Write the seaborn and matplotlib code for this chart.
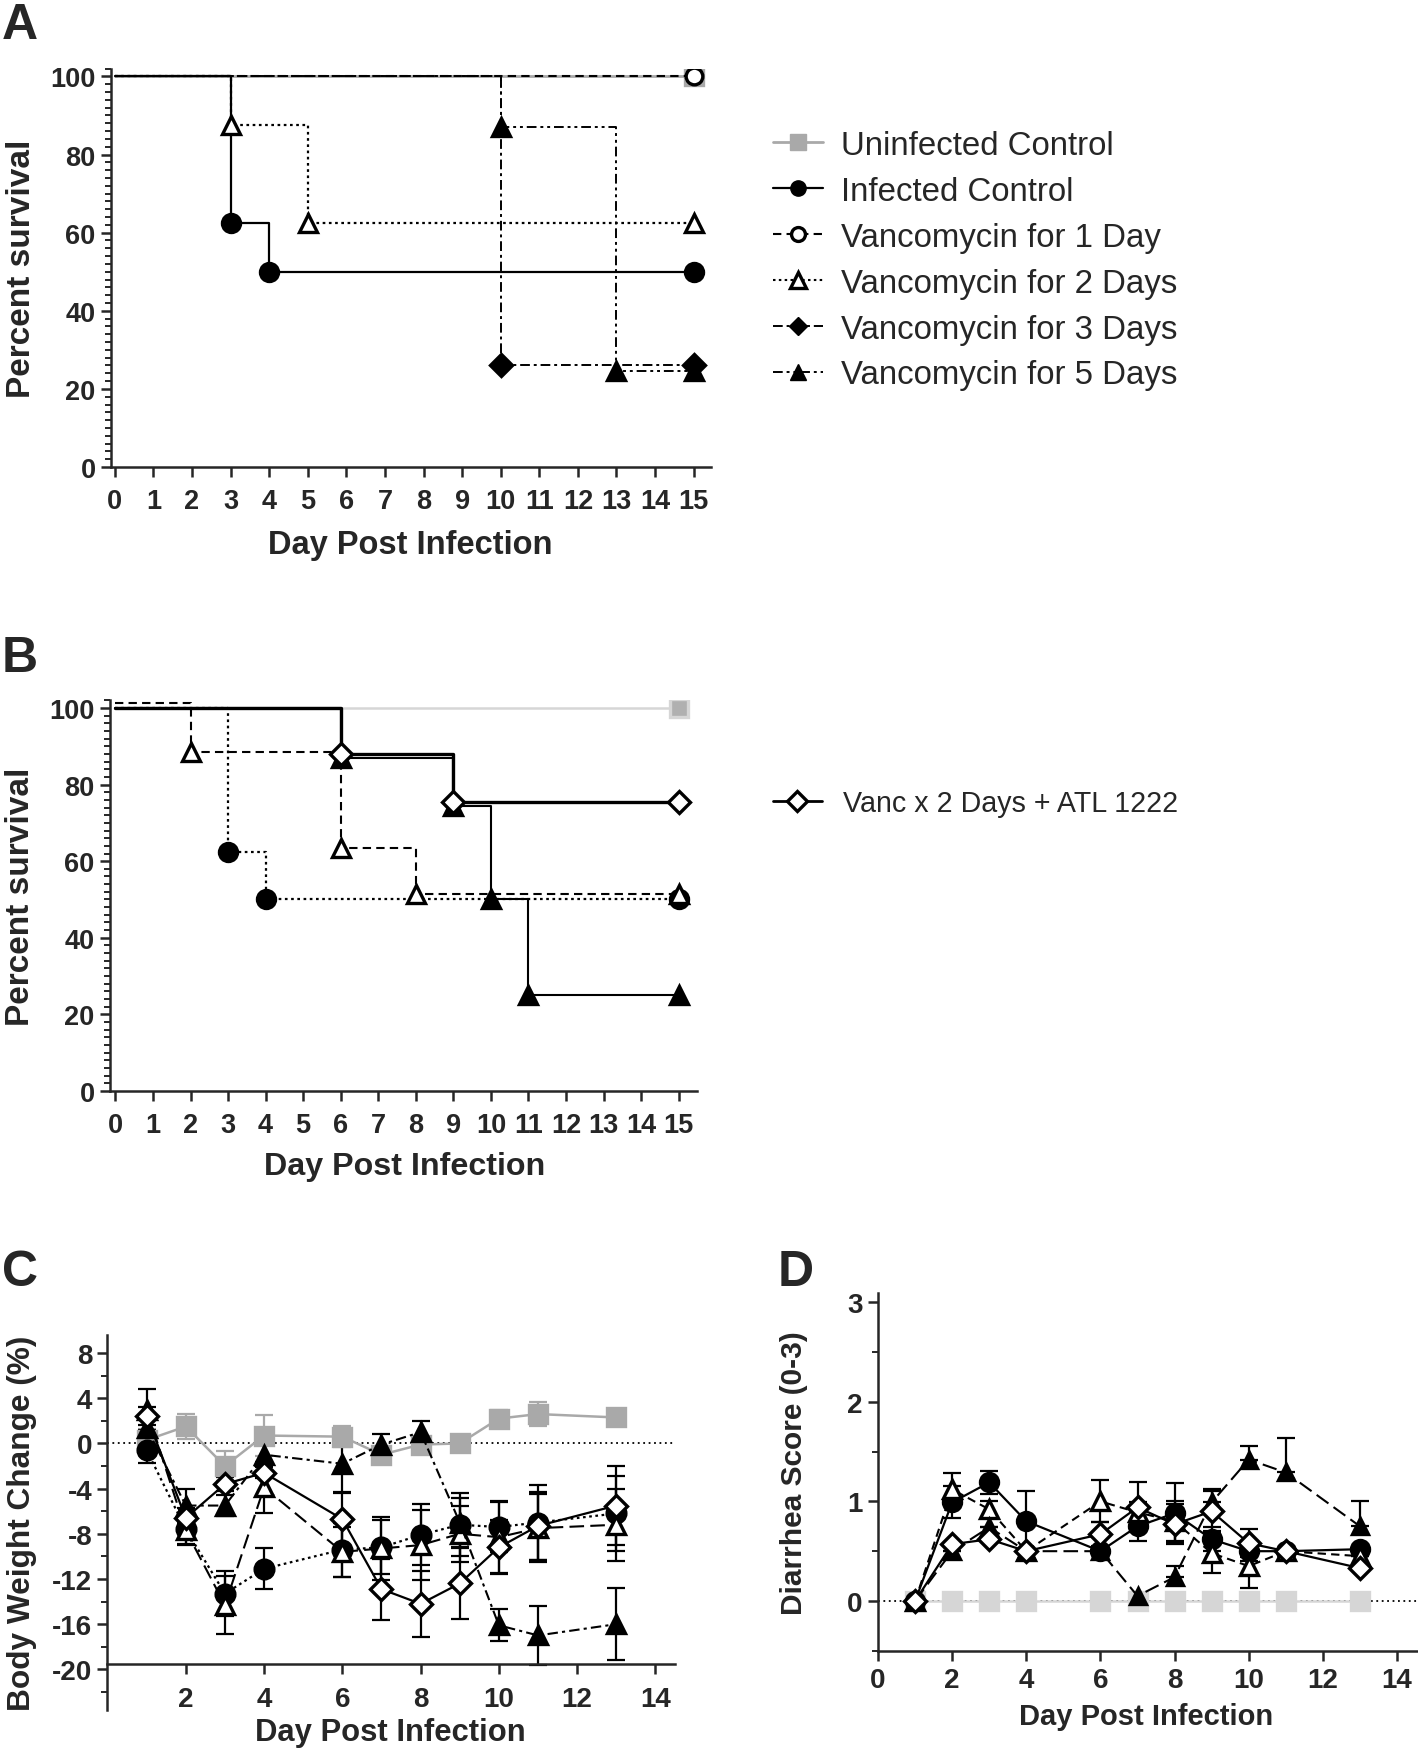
import matplotlib
matplotlib.use("Agg")
import matplotlib.pyplot as plt
from matplotlib.lines import Line2D
from matplotlib.ticker import MultipleLocator
import seaborn as sns

# ---------------- panel A: survival by vancomycin duration ----------------
a_uninf_day = [0, 15]
a_uninf_surv = [100, 100]
a_inf_day = [0, 3, 4, 15]
a_inf_surv = [100, 62.5, 50, 50]
a_v1_day = [0, 15]
a_v1_surv = [100, 100]
a_v2_day = [0, 3, 5, 15]
a_v2_surv = [100, 87.5, 62.5, 62.5]
a_v3_day = [0, 10, 15]
a_v3_surv = [100, 26, 26]
a_v5_day = [0, 10, 13, 15]
a_v5_surv = [100, 87, 24.5, 24.5]

# ---------------- panel B: survival with ATL 1222 ----------------
b_uninf_day = [0, 15]
b_uninf_surv = [100, 100]
b_inf_day = [0, 3, 4, 15]
b_inf_surv = [100, 62.5, 50, 50]
b_v2_day = [0, 2, 6, 8, 15]
b_v2_surv = [101.3, 88.5, 63.5, 51.5, 51.5]
b_v5_day = [0, 6, 9, 10, 11, 15]
b_v5_surv = [100, 87, 74.5, 50, 25, 25]
b_atl_day = [0, 6, 9, 15]
b_atl_surv = [100, 88, 75.5, 75.5]

# ---------------- panel C: body weight change (%) ----------------
c_day = [1, 2, 3, 4, 6, 7, 8, 9, 10, 11, 13]
c_uninf = [0.3, 1.5, -2.0, 0.7, 0.6, -1.0, -0.1, 0.0, 2.2, 2.6, 2.3]
c_uninf_err = [1.0, 1.1, 1.3, 1.8, 0.9, 0.3, 0.3, 0.3, 0.8, 1.1, 0.3]
c_inf = [-0.6, -7.6, -13.3, -11.1, -9.4, -9.2, -8.1, -7.2, -7.4, -7.0, -6.2]
c_inf_err = [1.1, 1.3, 2.0, 1.8, 2.4, 2.4, 2.7, 2.8, 2.2, 3.3, 3.3]
c_v2 = [3.0, -7.7, -14.3, -3.9, -9.6, -9.3, -9.0, -8.0, -8.3, -7.5, -7.2]
c_v2_err = [1.8, 1.3, 2.6, 2.3, 2.2, 2.8, 3.1, 2.5, 3.2, 3.0, 3.2]
c_v5 = [1.4, -5.5, -5.5, -1.0, -1.8, -0.1, 1.0, -7.0, -16.1, -17.0, -16.0]
c_v5_err = [0.8, 1.5, 0.9, 1.0, 2.5, 0.9, 1.0, 2.2, 1.4, 2.6, 3.2]
c_atl = [2.4, -6.6, -3.6, -2.6, -6.7, -12.9, -14.2, -12.4, -9.2, -7.3, -5.5]
c_atl_err = [0.8, 0.9, 0.6, 0.5, 2.3, 2.7, 2.9, 3.1, 2.4, 3.0, 3.5]

# ---------------- panel D: diarrhea score ----------------
d_day = [1, 2, 3, 4, 6, 7, 8, 9, 10, 11, 13]
d_uninf = [0, 0, 0, 0, 0, 0, 0, 0, 0, 0, 0]
d_inf = [0, 0.99, 1.19, 0.80, 0.50, 0.75, 0.88, 0.62, 0.50, 0.50, 0.52]
d_inf_err = [0, 0.16, 0.12, 0.30, 0, 0.15, 0.30, 0.12, 0.10, 0, 0]
d_v2 = [0, 1.12, 0.92, 0.50, 1.0, 0.89, 0.80, 0.48, 0.35, 0.50, 0.45]
d_v2_err = [0, 0.16, 0.08, 0, 0.21, 0.10, 0.20, 0.20, 0.22, 0, 0]
d_v5 = [0, 0.50, 0.74, 0.50, 0.50, 0.05, 0.24, 0.99, 1.42, 1.29, 0.75]
d_v5_err = [0, 0, 0, 0, 0, 0, 0.11, 0.13, 0.14, 0.35, 0.25]
d_atl = [0, 0.57, 0.62, 0.50, 0.67, 0.94, 0.77, 0.90, 0.58, 0.50, 0.33]
d_atl_err = [0, 0, 0, 0, 0.12, 0.25, 0.20, 0.20, 0.14, 0, 0]

legend_a = ["Uninfected Control", "Infected Control", "Vancomycin for 1 Day",
            "Vancomycin for 2 Days", "Vancomycin for 3 Days", "Vancomycin for 5 Days"]
legend_b = ["Vanc x 2 Days + ATL 1222"]

GRAY = "#a9a9a9"
LIGHT = "#d6d6d6"
DOT = (0, (1.2, 1.6))
DASH = (0, (4, 2.5))
LDASH = (0, (7, 3))
DASHDOT = (0, (5, 2, 1.5, 2))
DASHDOTDOT = (0, (5, 2, 1.5, 2, 1.5, 2))

sns.set_style("ticks")
plt.rcParams["font.family"] = ["Liberation Sans", "DejaVu Sans"]
plt.rcParams["font.weight"] = "bold"
plt.rcParams["axes.unicode_minus"] = False

W, H = 1418, 1756
fig = plt.figure(figsize=(W / 100, H / 100), dpi=100)


def box(left, top, right, bottom):
    return [left / W, 1 - bottom / H, (right - left) / W, (bottom - top) / H]


def draw(ax, x, y, color, ls, lw, marker, mfc, ms, steps=False, z=3):
    sns.lineplot(x=x, y=y, ax=ax, color=color, linestyle=ls, linewidth=lw,
                 marker=marker, markersize=ms, markerfacecolor=mfc,
                 markeredgecolor=color, markeredgewidth=2.4,
                 drawstyle="steps-post" if steps else "default",
                 markevery=slice(1, None) if steps else None,
                 estimator=None, sort=False, zorder=z)


def bars(ax, x, y, err, color, upper_only=False):
    yerr = [[0] * len(err), err] if upper_only else err
    ax.errorbar(x, y, yerr=yerr, fmt="none", ecolor=color, elinewidth=1.6,
                capsize=6.5, capthick=1.6, zorder=2)


def style(ax, size, pad=4):
    sns.despine(ax=ax)
    for side in ("left", "bottom"):
        ax.spines[side].set_linewidth(1.8)
    ax.tick_params(which="major", direction="out", length=7, width=1.8,
                   labelsize=size, pad=4)
    ax.tick_params(axis="x", pad=pad)
    ax.tick_params(axis="y", which="minor", direction="out", length=4.5, width=1.4)


def ylab(ax, text, x, size):
    ax.set_ylabel(text, weight="bold", fontsize=size)
    ax.yaxis.set_label_coords(x, 0.5)


def xlab(ax, x, y, size):
    ax.set_xlabel("Day Post Infection", weight="bold", fontsize=size)
    ax.xaxis.set_label_coords(x, y)


# ---------------- A ----------------
axA = fig.add_axes(box(111, 69.6, 711, 468))
draw(axA, a_uninf_day, a_uninf_surv, GRAY, "-", 2.0, "s", GRAY, 13, True, 2)
draw(axA, a_inf_day, a_inf_surv, "black", "-", 1.6, "o", "black", 13, True)
draw(axA, a_v1_day, a_v1_surv, "black", DASH, 1.5, "o", "white", 12, True)
draw(axA, a_v2_day, a_v2_surv, "black", DOT, 1.6, "^", "white", 13, True)
draw(axA, a_v3_day, a_v3_surv, "black", DASHDOT, 1.4, "D", "black", 11, True)
draw(axA, a_v5_day, a_v5_surv, "black", DASHDOTDOT, 1.4, "^", "black", 13, True)
axA.set_xlim(-0.1, 15.45)
axA.set_ylim(0, 102)
axA.set_xticks(range(0, 16))
axA.set_yticks(range(0, 101, 20))
axA.yaxis.set_minor_locator(MultipleLocator(2))
style(axA, 19.5, pad=8)
ylab(axA, "Percent survival", -0.124, 24)
xlab(axA, 0.498, -0.155, 23.5)

handles_a = [
    Line2D([], [], color=GRAY, ls="-", lw=2, marker="s", ms=11, mfc=GRAY, mec=GRAY),
    Line2D([], [], color="black", ls="-", lw=1.6, marker="o", ms=11, mfc="black", mec="black"),
    Line2D([], [], color="black", ls=DASH, lw=1.5, marker="o", ms=10, mfc="white", mec="black", mew=2.4),
    Line2D([], [], color="black", ls=DOT, lw=1.5, marker="^", ms=11, mfc="white", mec="black", mew=2.4),
    Line2D([], [], color="black", ls=DASHDOT, lw=1.4, marker="D", ms=9, mfc="black", mec="black"),
    Line2D([], [], color="black", ls=DASHDOTDOT, lw=1.4, marker="^", ms=11, mfc="black", mec="black"),
]
fig.legend(handles_a, legend_a, loc="upper left", bbox_to_anchor=(773 / W, 1 - 131 / H),
           frameon=False, borderpad=0, borderaxespad=0, handlelength=1.5,
           handletextpad=0.55, labelspacing=0.45,
           prop={"family": "Liberation Sans", "weight": "normal", "size": 23.8})

# ---------------- B ----------------
axB = fig.add_axes(box(109.8, 701.3, 697.4, 1092))
draw(axB, b_uninf_day, b_uninf_surv, LIGHT, "-", 1.8, "s", "#b0b0b0", 13, True, 2)
draw(axB, b_inf_day, b_inf_surv, "black", DOT, 1.6, "o", "black", 13, True)
draw(axB, b_v2_day, b_v2_surv, "black", DASH, 1.5, "^", "white", 13, True)
draw(axB, b_v5_day, b_v5_surv, "black", "-", 1.5, "^", "black", 13, True)
draw(axB, b_atl_day, b_atl_surv, "black", "-", 2.4, "D", "white", 11, True, 4)
axB.set_xlim(-0.15, 15.5)
axB.set_ylim(0, 102)
axB.set_xticks(range(0, 16))
axB.set_yticks(range(0, 101, 20))
axB.yaxis.set_minor_locator(MultipleLocator(2))
style(axB, 19.5, pad=8)
ylab(axB, "Percent survival", -0.125, 24)
xlab(axB, 0.501, -0.153, 23.2)

handles_b = [Line2D([], [], color="black", ls="-", lw=2, marker="D", ms=10,
                    mfc="white", mec="black", mew=2.4)]
fig.legend(handles_b, legend_b, loc="upper left", bbox_to_anchor=(773 / W, 1 - 790 / H),
           frameon=False, borderpad=0, borderaxespad=0, handlelength=1.7,
           handletextpad=0.75,
           prop={"family": "Liberation Sans", "weight": "normal", "size": 20.6})

# ---------------- C ----------------
axC = fig.add_axes(box(107.5, 1336, 675, 1711))
axC.axhline(0, color="black", ls=(0, (1, 2)), lw=1.3, zorder=1)
bars(axC, c_day, c_uninf, c_uninf_err, GRAY)
bars(axC, c_day, c_inf, c_inf_err, "black")
bars(axC, c_day, c_v2, c_v2_err, "black")
bars(axC, c_day, c_v5, c_v5_err, "black")
bars(axC, c_day, c_atl, c_atl_err, "black")
draw(axC, c_day, c_uninf, GRAY, "-", 1.8, "s", GRAY, 13.5)
draw(axC, c_day, c_inf, "black", DOT, 1.6, "o", "black", 13.5)
draw(axC, c_day, c_v2, "black", LDASH, 1.5, "^", "white", 13.5)
draw(axC, c_day, c_v5, "black", DASHDOT, 1.5, "^", "black", 12.5)
draw(axC, c_day, c_atl, "black", "-", 1.6, "D", "white", 11.5)
axC.set_xlim(0, 14.5)
axC.set_ylim(-23.6, 9.6)
axC.set_xticks(range(2, 15, 2))
axC.set_yticks(range(-20, 9, 4))
axC.yaxis.set_minor_locator(MultipleLocator(2))
axC.spines["bottom"].set_position(("data", -19.5))
style(axC, 20, pad=9)
ylab(axC, "Body Weight Change (%)", -0.124, 22.8)
xlab(axC, 0.498, -0.019, 22.3)

# ---------------- D ----------------
axD = fig.add_axes(box(878, 1294.2, 1417.4, 1651.8))
axD.axhline(0, color="black", ls=(0, (1, 2)), lw=1.3, zorder=1)
bars(axD, d_day, d_inf, d_inf_err, "black")
bars(axD, d_day, d_v2, d_v2_err, "black")
bars(axD, d_day, d_v5, d_v5_err, "black", upper_only=True)
bars(axD, d_day, d_atl, d_atl_err, "black")
draw(axD, d_day, d_uninf, LIGHT, "-", 1.8, "s", LIGHT, 13, z=2)
draw(axD, d_day, d_inf, "black", "-", 1.6, "o", "black", 13)
draw(axD, d_day, d_v2, "black", DASH, 1.5, "^", "white", 13)
draw(axD, d_day, d_v5, "black", LDASH, 1.5, "^", "black", 12)
draw(axD, d_day, d_atl, "black", "-", 1.6, "D", "white", 11)
axD.set_xlim(0, 14.55)
axD.set_ylim(-0.5, 3.09)
axD.set_xticks(range(0, 15, 2))
axD.set_yticks([0, 1, 2, 3])
axD.yaxis.set_minor_locator(MultipleLocator(0.5))
style(axD, 20, pad=5)
ylab(axD, "Diarrhea Score (0-3)", -0.13, 21.5)
xlab(axD, 0.497, -0.143, 21)

# panel letters
for letter, x, y in [("A", 2, 39), ("B", 2, 672), ("C", 2, 1286), ("D", 778, 1286)]:
    fig.text(x / W, 1 - y / H, letter, weight="bold",
             fontsize=36, ha="left", va="baseline")

fig.savefig("out.png", dpi=100)
